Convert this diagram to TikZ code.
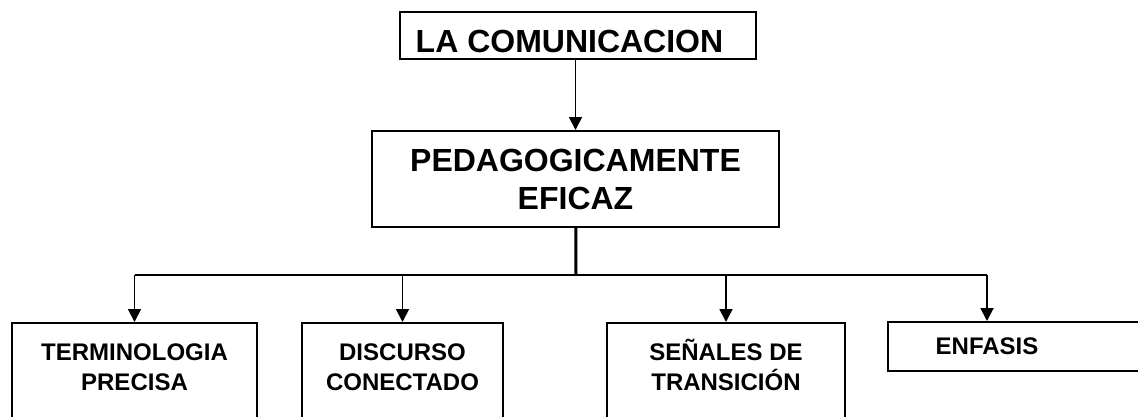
\documentclass[tikz,border=0pt]{standalone}
\usepackage{fontspec}
\setmainfont{Liberation Sans}
\usetikzlibrary{arrows.meta}

\tikzset{
  caja/.style={draw, line width=2pt, align=center, inner sep=0pt,
    font=\bfseries\fontsize{32}{38}\selectfont},
  hoja/.style={draw, line width=2pt, align=center, inner ysep=0pt, anchor=north,
    text height=67pt, text depth=40pt, font=\bfseries\fontsize{24}{30}\selectfont},
  flecha/.style={line width=1.8pt, -{Triangle[width=13pt,length=13pt]}}
}

\begin{document}
\begin{tikzpicture}[x=1pt, y=-1pt]
    \clip (0,0) rectangle (1138,416);
    \node [caja, minimum width=356pt, minimum height=47pt, text height=33pt, text depth=0pt] (c) at (578, 35.5) {LA COMUNICACION\hspace*{17pt}};
    \node [caja, minimum width=407pt, minimum height=96pt] (p) at (575.5, 179) {PEDAGOGICAMENTE\\EFICAZ};
    \node [hoja, minimum width=245pt] (t) at (134.5, 322) {TERMINOLOGIA\\PRECISA};
    \node [hoja, minimum width=201pt] (d) at (402.5, 322) {DISCURSO\\CONECTADO};
    \node [hoja, minimum width=238pt] (s) at (726, 322) {SEÑALES DE\\TRANSICIÓN};
    \node [draw, line width=2pt, minimum width=272pt, minimum height=49pt] (e) at (1024, 346.5) {};
    \node [font=\bfseries\fontsize{24}{30}\selectfont] (f) at (987, 346.5) {ENFASIS};
    \coordinate (j) at (576, 275);
    \draw [flecha] (c.south -| p) to (p);
    \draw [line width=3pt] (p) to (j);
    \draw [line width=1.8pt] (t |- j) to (f |- j);
    \draw [flecha] (t |- j) to (t);
    \draw [flecha] (d |- j) to (d);
    \draw [flecha] (s |- j) to (s);
    \draw [flecha] (f |- j) to (f |- e.north);
  \end{tikzpicture}
\end{document}
